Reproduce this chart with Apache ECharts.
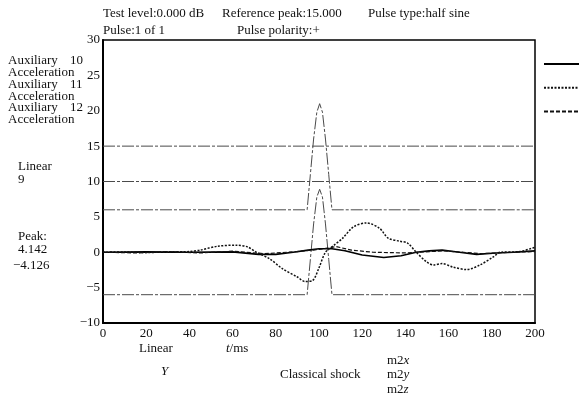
<!DOCTYPE html>
<html lang="en">
<head>
<meta charset="UTF-8">
<title>Classical shock</title>
<script src="https://cdn.jsdelivr.net/npm/echarts@6.0.0/dist/echarts.min.js"></script>
<style>
    html, body { margin: 0; background: #fff; }
    #main { width: 579px; height: 396px; }
</style>
</head>
<body>
<div id="main"></div>
<script>
    // tolerance band (upper / lower limit), time in ms
    var bandT  = [0, 94.5, 96, 97.5, 99, 100.3, 101.6, 103, 104.5, 106, 200];
    var upperV = [6, 6, 11, 16, 19.8, 21, 19.8, 16, 11, 6, 6];
    var lowerV = [-6, -6, -1, 4, 7.8, 8.9, 7.8, 4, -1, -6, -6];
    // constant reference levels
    var refLevels = [15, 10];

    // channel 11 (dotted) - the big response
    var respT = [0, 10, 20, 30, 40, 45, 53, 62, 67, 71, 77, 83, 90, 93.5, 97, 100, 103, 107, 111, 116, 122, 128, 132, 137.5, 141, 145, 150, 153, 157, 162, 168.5, 174.5, 180.5, 184, 193, 199, 200];
    var respV = [0, 0.05, -0.05, 0.05, 0.1, 0.3, 0.85, 1.0, 0.75, 0, -0.9, -2.3, -3.5, -4.13, -4.0, -2.2, 0, 1.0, 2.0, 3.6, 4.14, 3.4, 2.0, 1.55, 1.3, 0, -1.4, -1.8, -1.6, -2.1, -2.45, -1.8, -0.7, 0, 0.1, 0.6, 0.7];

    // channel 10 (solid)
    var solidT = [0, 20, 40, 60, 72, 80, 88, 95, 100, 106, 112, 120, 130, 138, 145, 151, 157, 165, 173, 182, 190, 200];
    var solidV = [0, 0.05, 0, 0.05, -0.3, -0.3, 0, 0.3, 0.5, 0.5, 0.2, -0.4, -0.75, -0.5, 0, 0.2, 0.3, 0, -0.3, -0.1, 0, 0.2];

    // channel 12 (dashed)
    var dashT = [0, 15, 30, 45, 60, 75, 90, 100, 108, 115, 125, 140, 158, 175, 190, 200];
    var dashV = [0, -0.1, 0.1, -0.1, 0.15, -0.2, 0.1, 0.4, 0.8, 0.3, 0, -0.1, 0.2, -0.2, 0, 0.1];

    var channelNames = ['Auxiliary 10', 'Auxiliary 11', 'Auxiliary 12'];

    function pairs(t, v) {
        var out = [];
        for (var i = 0; i < t.length; i++) out.push([t[i], v[i]]);
        return out;
    }

    var serif = 'Liberation Serif';
    var bandStyle = { color: '#4a4a4a', width: 1, type: [12, 2, 3, 2] };

    var series = [];
    refLevels.forEach(function (lv) {
        series.push({ type: 'line', data: [[0, lv], [200, lv]], symbol: 'none', silent: true, lineStyle: bandStyle });
    });
    series.push({ type: 'line', data: pairs(bandT, upperV), symbol: 'none', silent: true, lineStyle: bandStyle });
    series.push({ type: 'line', data: pairs(bandT, lowerV), symbol: 'none', silent: true, lineStyle: bandStyle });
    series.push({ name: channelNames[0], type: 'line', data: pairs(solidT, solidV), symbol: 'none',
        itemStyle: { color: '#000' }, lineStyle: { color: '#000', width: 1.6 } });
    series.push({ name: channelNames[1], type: 'line', data: pairs(respT, respV), symbol: 'none', smooth: 0.3,
        itemStyle: { color: '#111' }, lineStyle: { color: '#111', width: 1.5, type: [2, 1.5] } });
    series.push({ name: channelNames[2], type: 'line', data: pairs(dashT, dashV), symbol: 'none',
        itemStyle: { color: '#111' }, lineStyle: { color: '#111', width: 1.2, type: [4, 2] } });

    // free texts around the plot
    function txt(x, y, s, extra) {
        var st = { text: s, fontSize: 13, fontFamily: serif, fill: '#111', verticalAlign: 'middle' };
        for (var k in extra) st[k] = extra[k];
        return { type: 'text', x: x, y: y, style: st };
    }
    var italic = { i: { fontStyle: 'italic', fontSize: 13, fontFamily: serif } };
    var texts = [
        txt(103, 14, 'Test level:0.000 dB'),
        txt(222, 14, 'Reference peak:15.000'),
        txt(368, 14, 'Pulse type:half sine'),
        txt(103, 31, 'Pulse:1 of 1'),
        txt(237, 31, 'Pulse polarity:+'),
        txt(8, 61, 'Auxiliary'), txt(70, 61, '10'),
        txt(8, 73, 'Acceleration'),
        txt(8, 85, 'Auxiliary'), txt(70, 85, '11'),
        txt(8, 97, 'Acceleration'),
        txt(8, 108, 'Auxiliary'), txt(70, 108, '12'),
        txt(8, 120, 'Acceleration'),
        txt(18, 167, 'Linear'),
        txt(18, 180, '9'),
        txt(18, 237, 'Peak:'),
        txt(18, 250, '4.142'),
        txt(13, 266, '\u22124.126'),
        txt(139, 349, 'Linear'),
        txt(226, 349, '{i|t}/ms', { rich: italic }),
        txt(161, 372, '{i|Y}', { rich: italic }),
        txt(280, 375, 'Classical shock'),
        txt(387, 361, 'm2{i|x}', { rich: italic }),
        txt(387, 375, 'm2{i|y}', { rich: italic }),
        txt(387, 390, 'm2{i|z}', { rich: italic })
    ];

    var myChart = echarts.init(document.getElementById('main'));
    var option = {
        backgroundColor: '#fff',
        animation: false,
        textStyle: { fontFamily: serif },
        grid: { left: 103, right: 44, top: 40, bottom: 73, show: true, borderColor: '#000', borderWidth: 1.5 },
        legend: {
            data: channelNames, orient: 'vertical', left: 543, top: 58, padding: 0,
            itemWidth: 36, itemHeight: 12, itemGap: 13, textStyle: { fontSize: 1 },
            itemStyle: { opacity: 0 },
            formatter: function () { return ''; }, selectedMode: false
        },
        xAxis: {
            type: 'value', min: 0, max: 200, interval: 20,
            axisLine: { onZero: false, lineStyle: { color: '#000', width: 2 } },
            axisTick: { show: false }, splitLine: { show: false },
            axisLabel: { margin: 4, color: '#111', fontSize: 13, fontFamily: serif }
        },
        yAxis: {
            type: 'value', min: -10, max: 30, interval: 5,
            axisLine: { show: true, onZero: false, lineStyle: { color: '#000', width: 2 } },
            axisTick: { show: false }, splitLine: { show: false },
            axisLabel: {
                margin: 3, color: '#111', fontSize: 13, fontFamily: serif,
                formatter: function (v) { return v < 0 ? '\u2212' + (-v) : String(v); }
            }
        },
        graphic: texts,
        series: series
    };
    myChart.setOption(option);
</script>
</body>
</html>
